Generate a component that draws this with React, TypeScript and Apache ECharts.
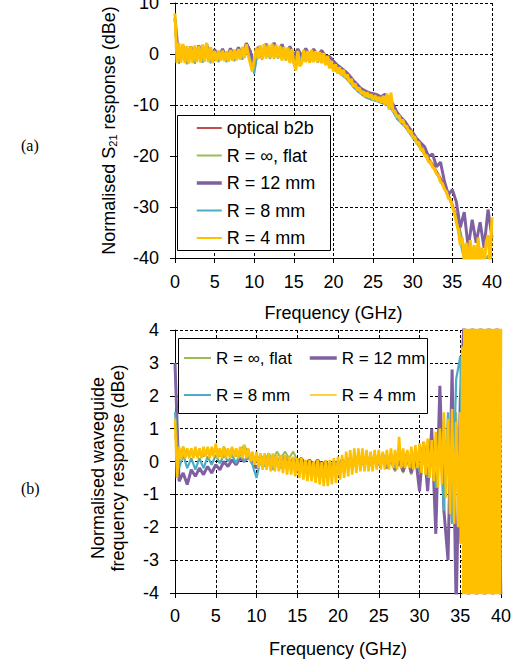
import React, { useEffect, useRef } from "react";
import * as echarts from "echarts";

// ---------- data ----------
const FINE_STEP_GHZ = 0.25;
const COARSE_STEP_GHZ = 0.5;
const HF_STEP_GHZ = 0.125;
const B_R4_HF_START_GHZ = 35;

const X_MIN = 0;
const X_MAX = 40;
const X_INTERVAL = 5;

const A_Y_MIN = -40;
const A_Y_MAX = 10;
const A_Y_INTERVAL = 10;

const B_Y_MIN = -4;
const B_Y_MAX = 4;
const B_Y_INTERVAL = 1;

const NAME_B2B = "optical b2b";
const NAME_FLAT = "R = ∞, flat";
const NAME_12 = "R = 12 mm";
const NAME_8 = "R = 8 mm";
const NAME_4 = "R = 4 mm";

// (a) normalised S21 response, dBe  (0.5 GHz resolution)
const A_B2B = [4.0, -0.8, 0.6, -0.9, 0.6, -0.8, 0.7, -0.7, 0.8, -0.8,
  0.4, -0.5, 0.5, -0.5, 0.5, -0.4, 0.6, -0.2, 1.0, 0.0,
  -2.0, 0.5, 0.0, 1.0, 0.1, 1.1, 0.2, 0.9, -0.2, 0.6,
  -0.8, 0.2, -0.6, 0.1, -0.6, 0.0, -0.6, -0.2, -0.7, -1.3,
  -2.2, -2.8, -3.4, -4.0, -4.8, -5.8, -6.6, -7.3, -7.8, -8.1,
  -8.4, -8.6, -8.9, -9.1, -9.5, -10.5, -12.0, -12.8, -13.6, -14.6,
  -15.8, -16.8, -18.0, -19.0, -20.4, -21.4, -22.8, -24.2, -25.8, -27.4,
  -29.2, -31.5, -34.5, -38.0, -40.5, -39.5, -41.0, -39.5, -41.0, -40.0,
  -41.0];

const A_FLAT = [6.0, -1.8, 1.0, -1.9, 0.9, -1.8, 1.1, -1.6, 1.2, -1.7,
  0.4, -1.5, 0.5, -1.5, 0.6, -1.3, 0.8, -1.0, 1.3, -0.8,
  -3.2, 0.7, -1.0, 1.4, -0.9, 1.5, -0.8, 1.2, -1.2, 0.8,
  -1.9, 0.3, -1.6, 0.2, -1.6, 0.1, -1.6, -0.4, -1.6, -2.0,
  -2.9, -3.4, -4.0, -4.6, -5.4, -6.4, -7.2, -7.8, -8.4, -8.7,
  -9.0, -9.2, -9.5, -9.8, -10.2, -11.2, -12.6, -13.4, -14.2, -15.2,
  -16.4, -17.4, -18.6, -19.6, -21.0, -22.0, -23.4, -24.8, -26.4, -28.0,
  -29.8, -32.0, -35.0, -38.5, -41.0, -39.0, -41.0, -39.0, -41.0, -39.5,
  -41.0];

const A_R12 = [7.0, -1.2, 1.6, -1.4, 1.5, -1.2, 1.7, -1.0, 1.9, -1.1,
  0.9, -0.9, 1.0, -0.9, 1.1, -0.7, 1.3, -0.4, 2.1, 0.6,
  -2.5, 1.4, -0.4, 2.0, -0.1, 2.2, 0.3, 1.9, -0.1, 1.5,
  -0.4, 1.0, -0.4, 1.1, -0.3, 1.0, -0.4, 0.7, -0.4, -0.5,
  -1.4, -2.2, -2.8, -3.4, -4.2, -5.2, -6.0, -6.8, -7.2, -7.6,
  -7.8, -8.0, -8.4, -7.9, -8.6, -9.8, -11.4, -12.4, -13.2, -14.4,
  -15.4, -16.6, -17.4, -18.2, -20.1, -19.6, -22.1, -21.2, -25.0, -27.6,
  -26.6, -29.0, -34.0, -31.0, -38.0, -32.5, -37.0, -33.0, -38.0, -30.5,
  -36.0];

const A_R8 = [5.0, -1.9, 1.1, -2.0, 1.0, -1.9, 1.2, -1.7, 1.3, -1.8,
  0.5, -1.6, 0.6, -1.6, 0.7, -1.4, 0.9, -1.1, 1.5, -0.9,
  -4.0, 0.8, -1.1, 1.5, -1.0, 1.6, -0.9, 1.3, -1.3, 0.9,
  -2.0, 0.4, -1.7, 0.3, -1.7, 0.2, -1.7, -0.5, -1.7, -2.1,
  -3.0, -3.5, -4.1, -4.7, -5.5, -6.5, -7.3, -7.9, -8.5, -8.8,
  -9.1, -9.3, -9.6, -9.9, -10.3, -11.3, -12.7, -13.5, -14.3, -15.3,
  -16.5, -17.5, -18.7, -19.7, -21.1, -22.1, -23.5, -24.9, -26.5, -28.1,
  -29.9, -32.2, -37.0, -40.5, -39.0, -41.0, -39.5, -41.0, -39.0, -41.0,
  -39.5];

// 0.25 GHz resolution
const A_R4 = [8.0, -1.8, 2.2, -1.7,
  2.0, -1.8, 1.6, -1.9,
  1.5, -1.8, 1.7, -1.6,
  1.6, -1.7, 1.9, -1.5,
  2.2, -1.6, 1.4, -1.8,
  0.6, -1.4, 0.7, -1.3,
  0.7, -1.4, 0.6, -1.5,
  0.8, -1.3, 0.9, -1.2,
  1.0, -1.1, 1.4, -0.8,
  1.9, -0.3, -1.8, -3.4,
  -1.2, 1.2, -1.0, 1.7,
  -1.0, 1.9, -0.9, 1.8,
  -0.8, 2.0, -1.0, 1.8,
  -0.8, 1.6, -1.3, 1.4,
  -1.3, 1.3, -1.8, 1.0,
  -1.8, -3.2, 0.6, -2.4,
  -1.8, 0.8, -1.6, 0.6,
  -1.7, 0.8, -1.6, 0.6,
  -1.6, 0.4, -1.8, 0.2,
  -2.2, -0.4, -2.8, -1.4,
  -3.4, -2.0, -3.8, -2.6,
  -4.2, -3.1, -4.7, -4.0,
  -5.6, -4.9, -6.4, -5.8,
  -7.2, -6.6, -7.8, -7.3,
  -8.4, -7.5, -8.6, -7.9,
  -9.0, -8.1, -9.3, -8.4,
  -9.6, -8.2, -10.0, -7.8,
  -10.9, -7.6, -11.2, -11.2,
  -12.4, -12.0, -13.4, -12.9,
  -14.2, -14.1, -15.4, -15.0,
  -16.4, -16.2, -17.6, -17.2,
  -18.8, -18.6, -19.9, -19.9,
  -21.2, -21.1, -22.2, -22.5,
  -23.5, -23.8, -25.1, -25.4,
  -26.5, -27.0, -28.3, -28.5,
  -30.0, -31.1, -33.0, -34.6,
  -37.5, -36.0, -41.0, -37.0,
  -42.0, -36.5, -41.0, -37.5,
  -42.0, -36.0, -41.0, -38.0,
  -42.0, -37.0, -35.5, -41.0,
  -32.0];

// (b) normalised waveguide frequency response, dBe  (0.5 GHz resolution)
const B_FLAT = [0.8, 0.1, 0.45, 0.2, 0.35, 0.2, 0.3, 0.15, 0.4, 0.2,
  0.45, 0.15, 0.45, 0.2, 0.4, 0.15, 0.35, 0.5, 0.25, 0.1,
  0.05, 0.2, 0.05, 0.25, 0.05, 0.3, 0.1, 0.3, 0.1, 0.3,
  0.05, 0.1, -0.05, 0.05, -0.1, 0.05, -0.15, 0.0, -0.2, 0.0,
  -0.15, 0.05, -0.1, 0.1, -0.05, 0.15, -0.05, 0.15, -0.05, 0.15,
  -0.1, 0.1, -0.2, 0.1, -0.3, 0.05, -0.35, 0.1, -0.4, 0.15,
  -0.35, 0.3, -0.6, 0.4, -0.8, 0.6, -1.0, 1.0, -1.3, 1.5,
  -2.5, 3.5, -4.5, 4.5, -4.5, 4.5, -4.5, 4.5, -4.5, 4.5,
  -4.5];

const B_R12 = [3.0, -0.6, -0.35, -0.7, -0.25, -0.45, -0.2, -0.4, -0.15, -0.35,
  -0.1, -0.25, 0.0, -0.15, 0.05, -0.1, 0.1, 0.0, 0.15, -0.05,
  -0.2, 0.0, -0.05, 0.1, -0.1, 0.1, -0.1, 0.15, -0.1, 0.1,
  -0.1, 0.1, -0.1, 0.05, -0.15, 0.05, -0.15, 0.0, -0.2, 0.0,
  -0.15, 0.05, -0.1, 0.1, -0.1, 0.1, -0.05, 0.15, -0.1, 0.1,
  -0.1, 0.1, -0.2, 0.05, -0.25, 0.0, -0.3, 0.1, -0.35, 0.2,
  -0.9, 0.6, -0.9, 1.0, -2.2, 2.3, -1.5, -3.0, 2.8, -4.5,
  1.8, 4.5, -4.5, 4.5, -4.5, 4.5, -4.5, 4.5, -4.5, 4.5,
  -4.5];

const B_R8 = [1.5, -0.2, 0.2, -0.2, 0.1, -0.25, 0.1, -0.2, 0.15, -0.1,
  0.2, -0.05, 0.2, 0.0, 0.2, -0.05, 0.25, 0.0, 0.2, -0.1,
  -0.5, 0.05, -0.15, 0.1, -0.25, 0.05, -0.2, 0.1, -0.15, 0.1,
  -0.15, 0.05, -0.2, 0.0, -0.25, 0.0, -0.3, -0.05, -0.3, 0.0,
  -0.2, 0.05, -0.15, 0.15, -0.1, 0.2, -0.1, 0.15, -0.1, 0.2,
  -0.05, 0.25, -0.1, 0.2, -0.2, 0.3, -0.1, 0.3, -0.2, 0.35,
  -0.3, 0.4, -0.5, 0.6, -0.8, 1.0, -1.5, 1.5, -1.9, 2.5,
  3.2, -3.5, 4.5, -4.5, 4.5, -4.5, 4.5, -4.5, 4.5, -4.5,
  4.5];

// 0.25 GHz resolution, 0 – 34.75 GHz
const B_R4 = [1.3, -0.5, 0.45, 0.05,
  0.45, 0.1, 0.4, 0.1,
  0.4, 0.1, 0.45, 0.1,
  0.4, 0.1, 0.45, 0.15,
  0.45, 0.1, 0.45, 0.15,
  0.55, 0.1, 0.4, 0.1,
  0.45, 0.1, 0.4, 0.1,
  0.45, 0.15, 0.4, 0.1,
  0.45, 0.1, 0.5, 0.1,
  0.4, 0.0, 0.3, -0.1,
  0.3, -0.2, 0.25, -0.25,
  0.25, -0.25, 0.25, -0.3,
  0.25, -0.3, 0.2, -0.3,
  0.2, -0.35, 0.2, -0.4,
  0.15, -0.4, 0.15, -0.45,
  0.1, -0.5, 0.1, -0.55,
  0.05, -0.6, 0.05, -0.6,
  0.0, -0.65, 0.05, -0.7,
  0.0, -0.75, 0.05, -0.75,
  0.05, -0.7, 0.1, -0.65,
  0.15, -0.55, 0.2, -0.5,
  0.3, -0.45, 0.35, -0.4,
  0.4, -0.35, 0.4, -0.3,
  0.4, -0.3, 0.35, -0.3,
  0.3, -0.3, 0.35, -0.25,
  0.35, -0.25, 0.3, -0.25,
  0.35, -0.25, 0.4, -0.2,
  0.35, -0.25, 0.75, -0.2,
  0.4, -0.2, 0.35, -0.2,
  0.45, -0.25, 0.5, -0.2,
  0.55, -0.35, 0.6, -0.4,
  0.7, -0.5, 0.65, -0.6,
  0.9, -0.8, 1.0, -0.7,
  1.5, -1.1, 1.3, -1.6,
  1.6, -1.9, 1.2, -2.0];

// 0.125 GHz resolution, 35 – 40 GHz
const B_R4_HF = [1.5, -2.5, 3.5, -4.5, 4.5, -4.5, 4.5, -4.5,
  4.5, -4.5, 4.5, -4.5, 4.5, -4.5, 4.5, -4.5,
  4.5, -4.5, 4.5, -4.5, 4.5, -4.5, 4.5, -4.5,
  4.5, -4.5, 4.5, -4.5, 4.5, -4.5, 4.5, -4.5,
  4.5, -4.5, 4.5, -4.5, 4.5, -4.5, 4.5, -4.5,
  4.5];

// ---------- styling ----------
const FONT = "'Liberation Sans', Arial, sans-serif";
const SERIF = "'Liberation Serif', 'Times New Roman', serif";
const C_RED = "#C0504D";
const C_GREEN = "#9BBB59";
const C_PURPLE = "#7F60A1";
const C_CYAN = "#4BACC6";
const C_YELLOW = "#FFC000";

const toPairs = (vals: number[], step: number, start = 0) =>
  vals.map((v, i) => [start + i * step, v]);

function lineSeries(name: string, color: string, width: number, data: number[][], gi: number) {
  return {
    type: "line",
    name,
    xAxisIndex: gi,
    yAxisIndex: gi,
    data,
    symbol: "none",
    showSymbol: false,
    clip: true,
    lineStyle: { color, width },
    itemStyle: { color },
    emphasis: { disabled: true },
  };
}

const axisText = { fontSize: 18, fontFamily: FONT, color: "#000" };
const dashed = { show: true, lineStyle: { color: "#000", width: 1, type: [3, 2] } };

function xAxisCfg(gi: number, labelMargin: number, nameGap: number) {
  return {
    type: "value",
    gridIndex: gi,
    min: X_MIN,
    max: X_MAX,
    interval: X_INTERVAL,
    axisLine: { show: true, onZero: false, lineStyle: { color: "#000", width: 1 } },
    axisTick: { show: true, inside: false, length: 5, lineStyle: { color: "#000" } },
    axisLabel: { ...axisText, margin: labelMargin },
    splitLine: dashed,
    name: "Frequency (GHz)",
    nameLocation: "middle",
    nameGap,
    nameTextStyle: { ...axisText },
  };
}

function legendItem(name: string, width: number) {
  return { name, lineStyle: { width }, itemStyle: { opacity: 0, borderWidth: 0 } };
}

const option = {
  animation: false,
  backgroundColor: "#fff",
  textStyle: { fontFamily: FONT },
  grid: [
    { left: 175, right: 23, top: 3, height: 255, containLabel: false, outerBoundsMode: "none" },
    { left: 175, right: 14, top: 330, height: 263, containLabel: false, outerBoundsMode: "none" },
  ],
  xAxis: [xAxisCfg(0, 15, 46), xAxisCfg(1, 14, 47)],
  yAxis: [
    {
      type: "value",
      gridIndex: 0,
      min: A_Y_MIN,
      max: A_Y_MAX,
      interval: A_Y_INTERVAL,
      axisLine: { show: true, onZero: false, lineStyle: { color: "#000", width: 1 } },
      axisTick: { show: true, inside: false, length: 5, lineStyle: { color: "#000" } },
      axisLabel: { ...axisText, margin: 16 },
      splitLine: dashed,
      name: "Normalised S{sub|21} response (dBe)",
      nameLocation: "middle",
      nameGap: 57,
      nameTextStyle: {
        ...axisText,
        lineHeight: 18,
        rich: { sub: { fontSize: 11, fontFamily: FONT, color: "#000", verticalAlign: "bottom", lineHeight: 18 } },
      },
    },
    {
      type: "value",
      gridIndex: 1,
      min: B_Y_MIN,
      max: B_Y_MAX,
      interval: B_Y_INTERVAL,
      axisLine: { show: true, onZero: false, lineStyle: { color: "#000", width: 1 } },
      axisTick: { show: true, inside: false, length: 5, lineStyle: { color: "#000" } },
      axisLabel: { ...axisText, margin: 16 },
      splitLine: dashed,
      name: "Normalised waveguide\nfrequency response (dBe)",
      nameLocation: "middle",
      nameGap: 47,
      nameTextStyle: { ...axisText, lineHeight: 20, padding: [0, 13, 0, 0] },
    },
  ],
  legend: [
    {
      orient: "vertical",
      left: 195,
      top: 119,
      padding: 0,
      itemWidth: 25,
      itemHeight: 14,
      itemGap: 9.5,
      selectedMode: false,
      textStyle: { ...axisText, lineHeight: 18 },
      data: [
        legendItem(NAME_B2B, 2),
        legendItem(NAME_FLAT, 2),
        legendItem(NAME_12, 3.5),
        legendItem(NAME_8, 2),
        legendItem(NAME_4, 2),
      ],
    },
    {
      orient: "vertical",
      left: 183,
      top: 349,
      padding: 0,
      itemWidth: 27,
      itemHeight: 14,
      itemGap: 19,
      selectedMode: false,
      textStyle: { ...axisText, fontSize: 17, lineHeight: 18 },
      data: [legendItem(NAME_FLAT, 2), legendItem(NAME_8, 2)],
    },
    {
      orient: "vertical",
      left: 308,
      top: 349,
      padding: 0,
      itemWidth: 27,
      itemHeight: 14,
      itemGap: 19,
      selectedMode: false,
      textStyle: { ...axisText, fontSize: 17, lineHeight: 18 },
      data: [legendItem(NAME_12, 3.5), legendItem(NAME_4, 1.5)],
    },
  ],
  graphic: [
    {
      type: "rect",
      z: 3,
      shape: { x: 177.5, y: 115.5, width: 153, height: 135 },
      style: { fill: "#fff", stroke: "#000", lineWidth: 1 },
    },
    {
      type: "rect",
      z: 3,
      shape: { x: 178.5, y: 338.5, width: 249, height: 75 },
      style: { fill: "#fff", stroke: "#000", lineWidth: 1 },
    },
    {
      type: "text",
      x: 21,
      y: 145,
      style: { text: "(a)", fontSize: 16, fontFamily: SERIF, fill: "#000", verticalAlign: "middle" },
    },
    {
      type: "text",
      x: 21,
      y: 488,
      style: { text: "(b)", fontSize: 16, fontFamily: SERIF, fill: "#000", verticalAlign: "middle" },
    },
  ],
  series: [
    lineSeries(NAME_B2B, C_RED, 1.5, toPairs(A_B2B, COARSE_STEP_GHZ), 0),
    lineSeries(NAME_FLAT, C_GREEN, 1.8, toPairs(A_FLAT, COARSE_STEP_GHZ), 0),
    lineSeries(NAME_12, C_PURPLE, 3, toPairs(A_R12, COARSE_STEP_GHZ), 0),
    lineSeries(NAME_8, C_CYAN, 1.8, toPairs(A_R8, COARSE_STEP_GHZ), 0),
    lineSeries(NAME_4, C_YELLOW, 3, toPairs(A_R4, FINE_STEP_GHZ), 0),
    lineSeries(NAME_FLAT, C_GREEN, 2, toPairs(B_FLAT, COARSE_STEP_GHZ), 1),
    lineSeries(NAME_12, C_PURPLE, 3, toPairs(B_R12, COARSE_STEP_GHZ), 1),
    lineSeries(NAME_8, C_CYAN, 2.2, toPairs(B_R8, COARSE_STEP_GHZ), 1),
    lineSeries(
      NAME_4,
      C_YELLOW,
      2.6,
      [...toPairs(B_R4, FINE_STEP_GHZ), ...toPairs(B_R4_HF, HF_STEP_GHZ, B_R4_HF_START_GHZ)],
      1
    ),
  ],
};

export default function App() {
  const ref = useRef<HTMLDivElement>(null);
  useEffect(() => {
    if (!ref.current) return;
    const chart = echarts.init(ref.current, null, { renderer: "svg" });
    chart.setOption(option as any);
    return () => chart.dispose();
  }, []);
  return (
    <div
      ref={ref}
      style={{ position: "fixed", left: 0, top: 0, width: 515, height: 662, background: "#fff" }}
    />
  );
}
